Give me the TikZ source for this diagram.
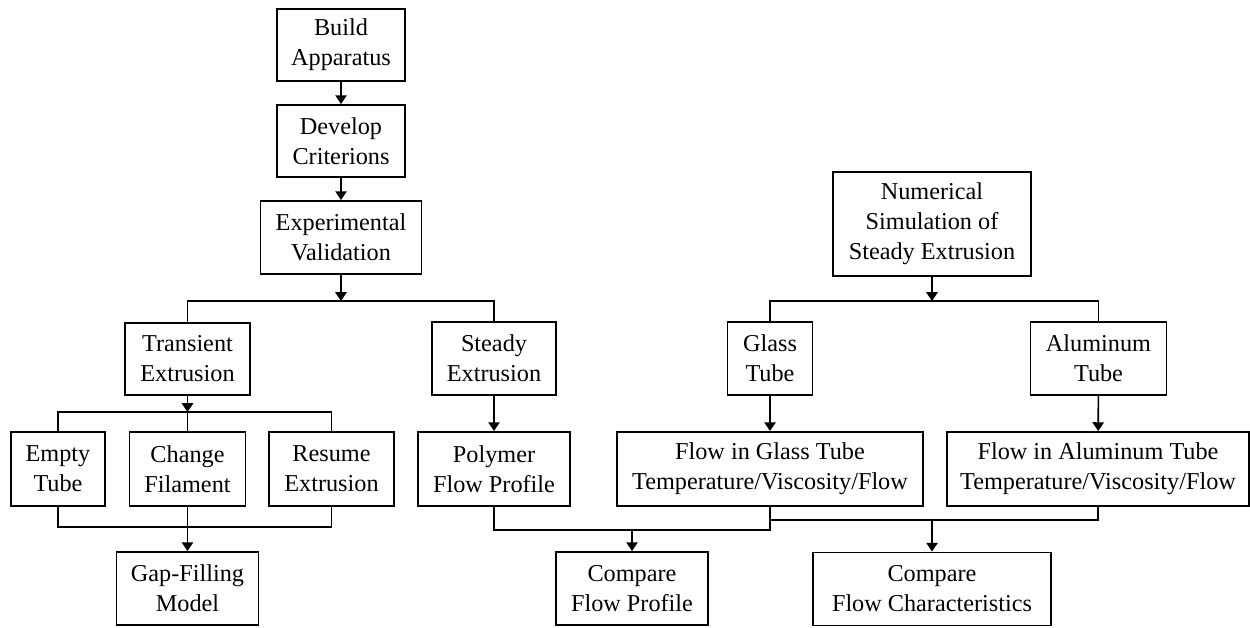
\documentclass[tikz,border=0pt]{standalone}
\usepackage{fontspec}
\setmainfont{Liberation Serif}
\usetikzlibrary{arrows.meta}

\begin{document}
\begin{tikzpicture}[x=0.02cm, y=-0.02cm,
        box/.style={draw, line width=1.1pt, align=center, inner sep=0pt, font=\fontsize{13.8}{17}\selectfont},
        arr/.style={-{Triangle[length=5pt, width=6.5pt]}},
        every path/.style={line width=0.9pt}]
            \useasboundingbox (0, 0) rectangle (1250, 628);
            % left column: experiments
            \node[box, minimum width=2.56cm, minimum height=1.44cm] (build) at (341, 45) {Build\\Apparatus};
            \node[box, minimum width=2.56cm, minimum height=1.44cm] (develop) at (341, 141) {Develop\\Criterions};
            \node[box, minimum width=3.22cm, minimum height=1.46cm] (experimental) at (341, 237.5) {Experimental\\Validation};
            \node[box, minimum width=2.5cm, minimum height=1.44cm] (transient) at (187.5, 359) {Transient\\Extrusion};
            \node[box, minimum width=2.48cm, minimum height=1.46cm] (steady) at (494, 358.5) {Steady\\Extrusion};
            \node[box, minimum width=1.88cm, minimum height=1.48cm] (empty) at (58, 469) {Empty\\Tube};
            \node[box, minimum width=2.32cm, minimum height=1.48cm] (change) at (187.5, 469) {Change\\Filament};
            \node[box, minimum width=2.5cm, minimum height=1.48cm] (resume) at (331.5, 469) {Resume\\Extrusion};
            \node[box, minimum width=3.04cm, minimum height=1.48cm] (polymer) at (494, 469) {Polymer\\Flow Profile};
            \node[box, minimum width=2.84cm, minimum height=1.46cm] (gap) at (187.5, 588.5) {Gap-Filling\\Model};
            % right column: simulation
            \node[box, minimum width=3.96cm, minimum height=2.08cm] (numerical) at (932, 224) {Numerical\\Simulation of\\Steady Extrusion};
            \node[box, minimum width=1.7cm, minimum height=1.46cm] (glass) at (770, 358.5) {Glass\\Tube};
            \node[box, minimum width=2.72cm, minimum height=1.46cm] (aluminum) at (1098.5, 358.5) {Aluminum\\Tube};
            \node[box, minimum width=6.12cm, minimum height=1.48cm] (flowglass) at (770, 469) {Flow in Glass Tube\\Temperature/Viscosity/Flow};
            \node[box, minimum width=6.04cm, minimum height=1.48cm] (flowalu) at (1098, 469) {Flow in Aluminum Tube\\Temperature/Viscosity/Flow};
            \node[box, minimum width=3.04cm, minimum height=1.46cm] (cmpprof) at (632, 588.5) {Compare\\Flow Profile};
            \node[box, minimum width=4.76cm, minimum height=1.46cm] (cmpchar) at (932, 589) {Compare\\Flow Characteristics};
            % junctions
            \coordinate (jexp) at (341, 301);
            \coordinate (jtr) at (187.5, 412);
            \coordinate (jgap) at (187.5, 527);
            \coordinate (jnum) at (932, 301);
            \coordinate (jprof) at (632, 530);
            \coordinate (jchar) at (932, 520);
            \draw[arr] (build) -- (develop);
            \draw[arr] (develop) -- (experimental);
            \draw[arr] (experimental) -- (jexp);
            \draw (transient.north) |- (jexp) -| (steady.north);
            \draw[arr] (transient) -- (jtr);
            \draw (empty.north) |- (jtr) -| (resume.north);
            \draw (change.north) -- (jtr);
            \draw (empty.south) |- (jgap) -| (resume.south);
            \draw (change.south) -- (jgap);
            \draw[arr] (jgap) -- (gap);
            \draw[arr] (steady) -- (polymer);
            \draw[arr] (numerical) -- (jnum);
            \draw (glass.north) |- (jnum) -| (aluminum.north);
            \draw[arr] (glass) -- (flowglass);
            \draw[arr] (aluminum) -- (flowalu);
            \draw (polymer.south) |- (jprof) -| (flowglass.south);
            \draw[arr] (jprof) -- (cmpprof);
            \draw (flowglass.south |- jchar) -| (flowalu.south);
            \draw[arr] (jchar) -- (cmpchar);
        \end{tikzpicture}
\end{document}
